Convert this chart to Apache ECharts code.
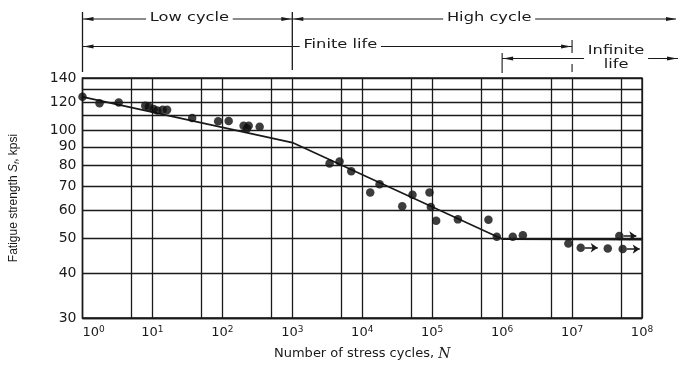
<!DOCTYPE html>
<html><head><meta charset="utf-8">
<script src="https://cdn.jsdelivr.net/npm/echarts@6/dist/echarts.min.js"></script>
<style>html,body{margin:0;padding:0;background:#fff}#c{width:678px;height:366px}</style>
</head><body><div id="c"></div>
<script>
// ---- data ----
const decadeTicks = [1, 10, 100, 1e3, 1e4, 1e5, 1e6, 1e7, 1e8];
const halfDecadeGrid = [5, 50, 500, 5e3, 5e4, 5e5, 5e6, 5e7];
const strengthGrid = [30, 40, 50, 60, 70, 80, 90, 100, 110, 120, 130, 140];
const strengthLabels = [30, 40, 50, 60, 70, 80, 90, 100, 120, 140];
const testCycles = [1, 1.75, 3.3, 7.9, 8.9, 10.4, 11.7, 14, 16.2, 37, 87, 123, 201, 225, 238, 341,
  3410, 4740, 6960, 17700, 13000, 52300, 37300, 91500, 95700, 114000, 233000,
  637000, 839000, 1.42e6, 1.98e6, 8.85e6, 3.24e7];
const testStrength = [124.2, 119.1, 119.6, 117.2, 116.4, 114.8, 113.6, 114.2, 114.1, 108.3, 106, 106.2, 103, 101.3, 103, 102.4,
  80.9, 81.9, 77, 70.8, 67.1, 66.2, 61.5, 67.1, 61.2, 56, 56.5,
  56.4, 50.5, 50.5, 51, 48.4, 46.9];
const runoutCycles = [1.33e7, 4.74e7, 5.3e7];
const runoutStrength = [47.1, 50.8, 46.7];
const curveCycles = [1, 1e3, 1e6, 1e8];
const curveStrength = [124, 92.5, 49.8, 49.6];

const ink = '#1a1a1a';
const chart = echarts.init(document.getElementById('c'), null, {renderer: 'canvas'});

const gridLines = strengthGrid.map(v => ({
  yAxis: v,
  label: {show: strengthLabels.indexOf(v) >= 0}
})).concat(halfDecadeGrid.map(v => ({xAxis: v, label: {show: false}})));

chart.setOption({
  animation: false,
  grid: {left: 82, right: 36, top: 78, bottom: 41, show: true, borderColor: ink, borderWidth: 1.3},
  xAxis: {
    type: 'log', logBase: 10, min: decadeTicks[0], max: decadeTicks[decadeTicks.length - 1], splitNumber: 8,
    axisLine: {show: true, lineStyle: {color: ink, width: 1.3}},
    axisTick: {show: false},
    splitLine: {show: true, lineStyle: {color: ink, width: 1.3}},
    axisLabel: {
      margin: 7, alignMinLabel: 'left',
      formatter: v => '{b|10}{s|' + Math.round(Math.log10(v)) + '}',
      rich: {
        b: {fontFamily: 'DejaVu Sans', fontSize: 13, color: ink},
        s: {fontFamily: 'DejaVu Sans', fontSize: 9, color: ink, padding: [0, 0, 7, 0]}
      }
    },
    name: 'Number of stress cycles, {i|N}', nameLocation: 'middle', nameGap: 29,
    nameTextStyle: {
      fontFamily: 'DejaVu Sans', fontSize: 13, color: ink,
      rich: {i: {fontFamily: 'DejaVu Serif', fontStyle: 'italic', fontSize: 14, color: ink}}
    }
  },
  yAxis: {
    type: 'log', logBase: 10, min: strengthGrid[0], max: strengthGrid[strengthGrid.length - 1],
    axisLine: {show: true, lineStyle: {color: ink, width: 1.3}},
    axisTick: {show: false},
    axisLabel: {show: false},
    splitLine: {show: false},
    name: 'Fatigue strength {i|S}{sub|f}, kpsi', nameLocation: 'middle', nameGap: 62, nameRotate: 90,
    nameTextStyle: {
      fontFamily: 'Liberation Sans', fontSize: 12, color: ink,
      rich: {
        i: {fontFamily: 'Liberation Sans', fontStyle: 'italic', fontSize: 12, color: ink},
        sub: {fontFamily: 'Liberation Sans', fontStyle: 'italic', fontSize: 8, color: ink, padding: [5, 0, 0, 0]}
      }
    }
  },
  series: [
    {
      name: 'S-N curve', type: 'line', symbol: 'none', silent: true, z: 3,
      data: curveCycles.map((n, i) => [n, curveStrength[i]]),
      lineStyle: {color: ink, width: 1.7},
      markLine: {
        silent: true, symbol: ['none', 'none'], animation: false,
        lineStyle: {color: ink, width: 1.3, type: 'solid'},
        label: {position: 'start', distance: 6, formatter: p => p.value,
          fontFamily: 'DejaVu Sans', fontSize: 14, color: ink},
        emphasis: {disabled: true},
        data: gridLines
      }
    },
    {
      name: 'Tests', type: 'scatter', symbol: 'circle', symbolSize: 8.5, z: 4,
      itemStyle: {color: '#0d0d0d'},
      data: testCycles.map((n, i) => [n, testStrength[i]])
    },
    {
      name: 'Runouts', type: 'scatter', symbol: 'circle', symbolSize: 8.5, z: 4,
      itemStyle: {color: '#0d0d0d'},
      data: runoutCycles.map((n, i) => [n, runoutStrength[i]]),
      markLine: {
        silent: true, symbol: ['none', 'arrow'], symbolSize: 7, animation: false,
        lineStyle: {color: ink, width: 1.5, type: 'solid'},
        label: {show: false},
        emphasis: {disabled: true},
        data: runoutCycles.map((n, i) => [
          {coord: [n * 1.15, runoutStrength[i]]},
          {coord: [n * 1.75, runoutStrength[i]]}
        ])
      }
    }
  ]
});

// ---- range annotations above the plot, anchored to the x scale ----
const px = v => chart.convertToPixel({xAxisIndex: 0}, v);
const W = chart.getWidth();
const x0 = px(decadeTicks[0]), x3 = px(decadeTicks[3]), x6 = px(decadeTicks[6]), x7 = px(decadeTicks[7]);
const ln = (x1, y1, x2, y2, w) => ({type: 'line', silent: true, z: 100,
  shape: {x1, y1, x2, y2}, style: {stroke: ink, lineWidth: w || 1.1}});
const arrow = (xTip, y, dir) => ({type: 'polygon', silent: true, z: 100,
  shape: {points: [[xTip, y], [xTip - dir * 10, y - 2], [xTip - dir * 10, y + 2]]}, style: {fill: ink}});
const txt = (text, x, y) => ({type: 'text', silent: true, z: 101, x, y, scaleX: 1.25,
  style: {text, fill: ink, font: '13px "DejaVu Sans"', align: 'center', verticalAlign: 'middle',
    lineHeight: 14, backgroundColor: '#fff', padding: [0, 3]}});

const yA = 19, yB = 46.5, yC = 58.5;
chart.setOption({
  graphic: [
    ln(x0, 12, x0, 72, 1.3), ln(x3, 12, x3, 70, 1.3),
    ln(x7, 40, x7, 53), ln(x7, 64, x7, 72), ln(x6, 53, x6, 73),
    ln(x0, yA, x3, yA), ln(x3, yA, W - 2, yA),
    arrow(x0 + 1, yA, -1), arrow(x3 - 1, yA, 1), arrow(x3 + 1, yA, -1), arrow(W - 2, yA, 1),
    ln(x0, yB, x7, yB), arrow(x0 + 1, yB, -1), arrow(x7 - 1, yB, 1),
    ln(x6, yC, W, yC, 1), arrow(x6 + 1, yC, -1), arrow(W - 1, yC, 1),
    txt('Low cycle', (x0 + x3) / 2 + 2, 18),
    txt('High cycle', (x3 + W) / 2 + 4, 18),
    txt('Finite life', x3 + 48, 45),
    txt('Infinite\nlife', x7 + 44, 58)
  ]
});
</script>
</body></html>
